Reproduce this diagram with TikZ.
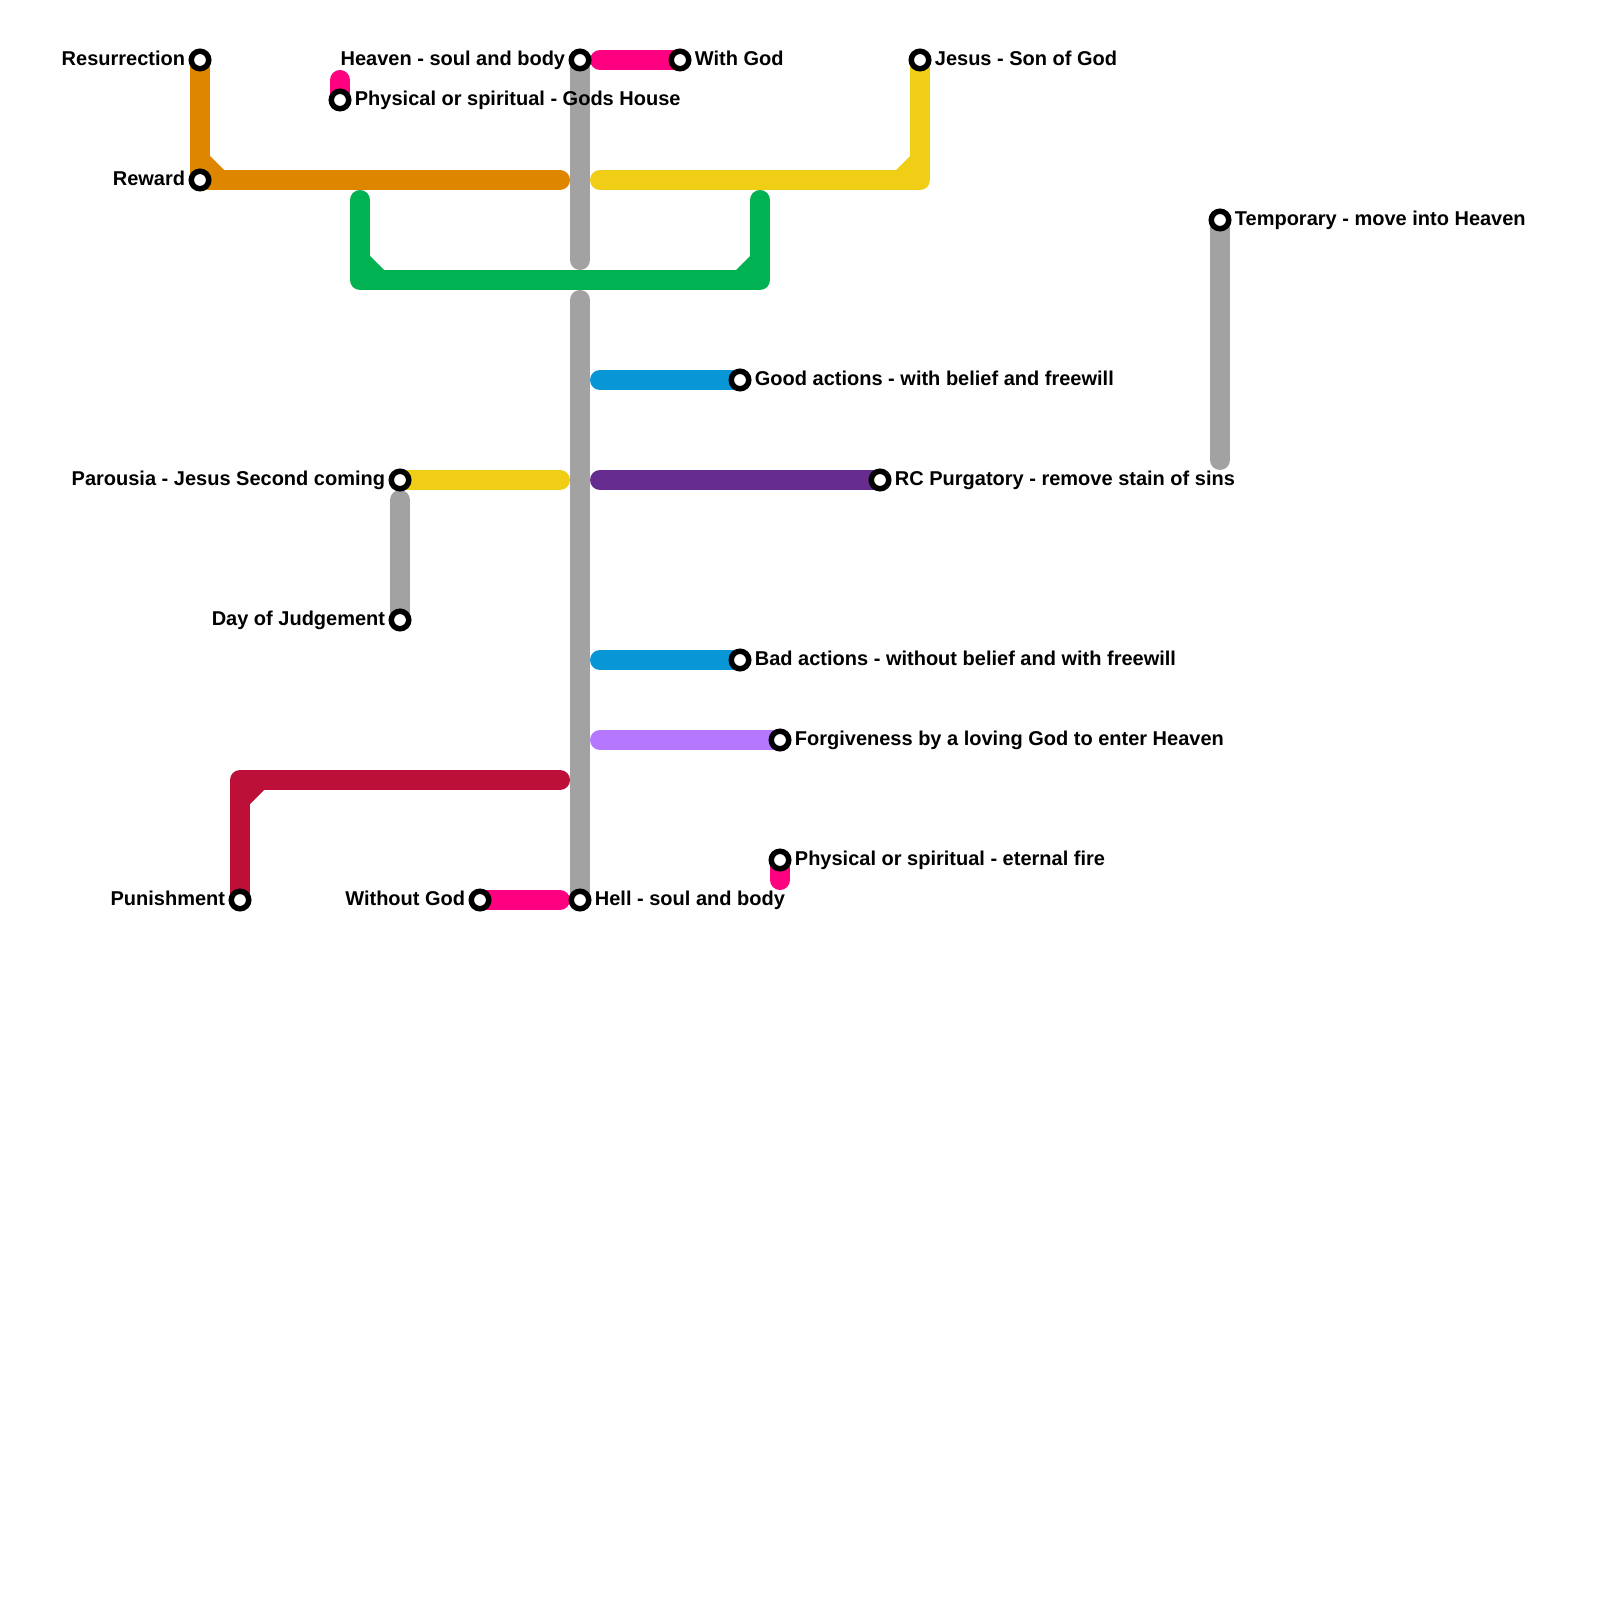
\documentclass[tikz,border=0pt]{standalone}
\usepackage{fontspec}
\setmainfont{Liberation Sans}
\definecolor{LineOrange}{HTML}{DF8600}
\definecolor{LineYellow}{HTML}{F0CE15}
\definecolor{LineGreen}{HTML}{00B251}
\definecolor{LineGray}{HTML}{A2A2A2}
\definecolor{LinePink}{HTML}{FF0080}
\definecolor{LineBlue}{HTML}{0896D7}
\definecolor{LinePurple}{HTML}{662C90}
\definecolor{LineLilac}{HTML}{B677FF}
\definecolor{LineRed}{HTML}{BD1038}
\usetikzlibrary{positioning, backgrounds}

\begin{document}
\begin{tikzpicture}[x=1cm,y=-1cm,node distance=0.545mm,
	station/.style={circle,draw=black,fill=white,line width=0.55mm,minimum size=1.75mm,inner sep=0pt,outer sep=0pt},
	stationtext/.style={inner sep=0pt,text height=2.14mm,text depth=1mm,font=\fontsize{5.69pt}{7pt}\selectfont\bfseries},
	metro/.style={line width=2mm,line cap=round,line join=round}]
\useasboundingbox (0,0) rectangle (16,16);
% stations with text on the right
\foreach \n/\x/\y/\t in {sPhysHouse/3.4/1/Physical or spiritual - Gods House,sWith/6.8/0.6/With God,
	sJesus/9.2/0.6/Jesus - Son of God,sTemp/12.2/2.2/Temporary - move into Heaven,
	sGood/7.4/3.8/Good actions - with belief and freewill,sPurg/8.8/4.8/RC Purgatory - remove stain of sins,
	sBad/7.4/6.6/Bad actions - without belief and with freewill,
	sForgive/7.8/7.4/Forgiveness by a loving God to enter Heaven,
	sPhysFire/7.8/8.6/Physical or spiritual - eternal fire,sHell/5.8/9/Hell - soul and body}{
	\node[station] (\n) at (\x,\y){};
	\node[stationtext,right=of \n] (\n T) {\t};
}
% stations with text on the left
\foreach \n/\x/\y/\t in {sRes/2/0.6/Resurrection,sReward/2/1.8/Reward,sHeaven/5.8/0.6/Heaven - soul and body,
	sParousia/4/4.8/Parousia - Jesus Second coming,sDay/4/6.2/Day of Judgement,
	sPunish/2.4/9/Punishment,sWithout/4.8/9/Without God}{
	\node[station] (\n) at (\x,\y){};
	\node[stationtext,left=of \n] (\n T) {\t};
}
% free line ends and bends
\foreach \n/\x/\y in {oEnd/5.6/1.8,yEnd/6/1.8,yBend/9.2/1.8,gA/3.6/2,gBendA/3.6/2.8,gBendB/7.6/2.8,gB/7.6/2,
	tA/5.8/2.6,tB/5.8/3,pTop/3.4/0.8,pWith/6/0.6,pWithout/5.6/9,pFire/7.8/8.8,
	bGood/6/3.8,yPar/5.6/4.8,vPurg/6/4.8,tDay/4/5,bBad/6/6.6,lForgive/6/7.4,
	rEnd/5.6/7.8,rBend/2.4/7.8,tTemp/12.2/4.6}{
	\coordinate (\n) at (\x,\y);
}
\begin{scope}[on background layer]
\draw[metro,LineGray] (sHeaven.center)--(tA);
\draw[metro,LineGray] (tB)--(sHell.center);
\draw[metro,LineGray] (tDay)--(sDay.center);
\draw[metro,LineGray] (sTemp.center)--(tTemp);
\draw[metro,LinePink] (pTop)--(sPhysHouse.center);
\draw[metro,LinePink] (pWith)--(sWith.center);
\draw[metro,LinePink] (sWithout.center)--(pWithout);
\draw[metro,LinePink] (sPhysFire.center)--(pFire);
\draw[metro,LineOrange] (sRes.center)--(sReward.center)--(oEnd);
\fill[LineOrange] (sReward.center) ++(0.1,-0.1) -- ++(0,-0.14) -- ++(0.14,0.14) -- cycle;
\draw[metro,LineYellow] (yEnd)--(yBend)--(sJesus.center);
\fill[LineYellow] (yBend) ++(-0.1,-0.1) -- ++(0,-0.14) -- ++(-0.14,0.14) -- cycle;
\draw[metro,LineGreen] (gA)--(gBendA)--(gBendB)--(gB);
\fill[LineGreen] (gBendA) ++(0.1,-0.1) -- ++(0,-0.14) -- ++(0.14,0.14) -- cycle;
\fill[LineGreen] (gBendB) ++(-0.1,-0.1) -- ++(0,-0.14) -- ++(-0.14,0.14) -- cycle;
\draw[metro,LineBlue] (bGood)--(sGood.center);
\draw[metro,LineBlue] (bBad)--(sBad.center);
\draw[metro,LineYellow] (sParousia.center)--(yPar);
\draw[metro,LinePurple] (vPurg)--(sPurg.center);
\draw[metro,LineLilac] (lForgive)--(sForgive.center);
\draw[metro,LineRed] (rEnd)--(rBend)--(sPunish.center);
\fill[LineRed] (rBend) ++(0.1,0.1) -- ++(0,0.14) -- ++(0.14,-0.14) -- cycle;
\end{scope}
\end{tikzpicture}
\end{document}
